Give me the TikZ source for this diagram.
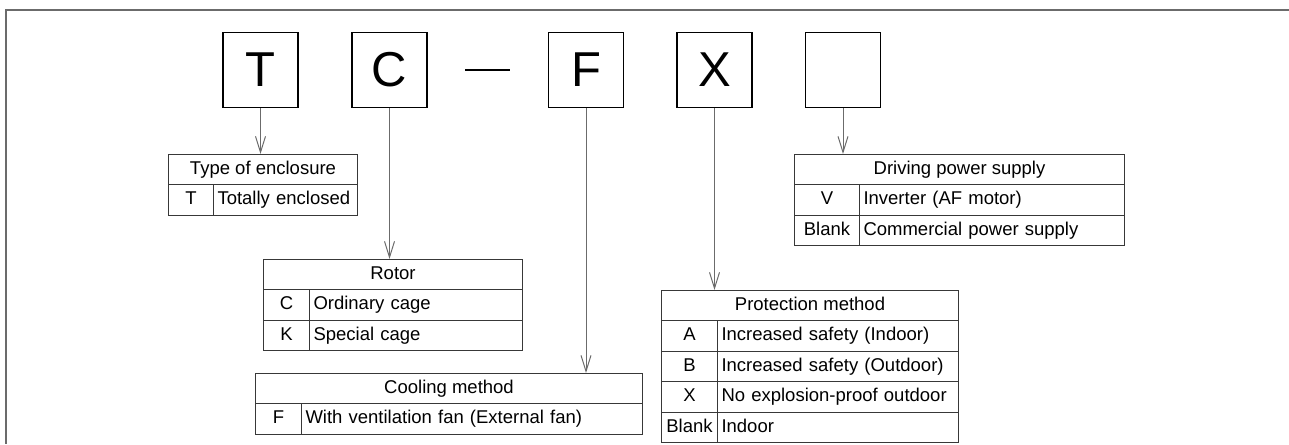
\documentclass[tikz,border=0pt]{standalone}
\usepackage{fontspec}
\setmainfont{Liberation Sans}
\usetikzlibrary{arrows.meta}
\definecolor{zline}{gray}{.22}
\definecolor{zgray}{gray}{.42}
% table: name, x, y, code width, text width, title, rows
\newcommand{\ztab}[7]{%
  \pgfmathsetmacro\zW{#4+#5}\pgfmathsetmacro\zw{#5-8}
  \node[zhead, minimum width=\zW pt] (#1) at (#2,#3) {#6};
  \foreach \c/\d [count=\i] in {#7}{
    \node[zcode, minimum width=#4pt] (#1-c\i) at (#2,#3+30.4*\i) {\c};
    \node[zdesc, text width=\zw pt] (#1-d\i) at (#2+#4,#3+30.4*\i) {\d};}
}

\begin{document}
\begin{tikzpicture}[x=1pt, y=-1pt, zbox/.style={draw=black, line width=1.5, minimum size=75, inner sep=0, font=\fontsize{49}{50}\selectfont}, zcell/.style={draw=zline, line width=1, anchor=north west, inner sep=0, minimum height=30.4, text height=13.5, text depth=4, font=\fontsize{18.5}{20}\selectfont}, zhead/.style={zcell}, zcode/.style={zcell}, zdesc/.style={zcell, inner xsep=4, align=left}, zarr/.style={draw=zgray, line width=1, -{Straight Barb[length=16pt, width=10pt]}}]
  \useasboundingbox (0,0) rectangle (1289,444);
  \draw[zgray, line width=2] (1289,10) -- (6,10) -- (6,444);
  \foreach \n/\x/\l in {bT/260.5/T, bC/389.5/C, bF/586/F, bX/714.5/X, bV/843/{}}{\node[zbox] (\n) at (\x,70) {\l};}
  \draw[black, line width=1.5] (465,70) -- (510,70);
  \ztab{enc}{168}{154}{45}{144}{Type of enclosure}{T/Totally enclosed}
  \ztab{rot}{263}{259}{46}{213}{Rotor}{C/Ordinary cage, K/Special cage}
  \ztab{cool}{255}{373}{46}{341}{Cooling method}{F/With ventilation fan (External fan)}
  \ztab{prot}{661}{290}{56}{241}{Protection method}{A/Increased safety (Indoor), B/Increased safety (Outdoor), X/No explosion-proof outdoor, Blank/Indoor}
  \ztab{drv}{794}{154}{65}{265}{Driving power supply}{V/Inverter (AF motor), Blank/Commercial power supply}
  \draw[zarr] (bT) -- (bT |- enc.north);
  \draw[zarr] (bC) -- (bC |- rot.north);
  \draw[zarr] (bF) -- (bF |- cool.north);
  \draw[zarr] (bX) -- (bX |- prot.north);
  \draw[zarr] (bV) -- (bV |- drv.north);
\end{tikzpicture}
\end{document}
